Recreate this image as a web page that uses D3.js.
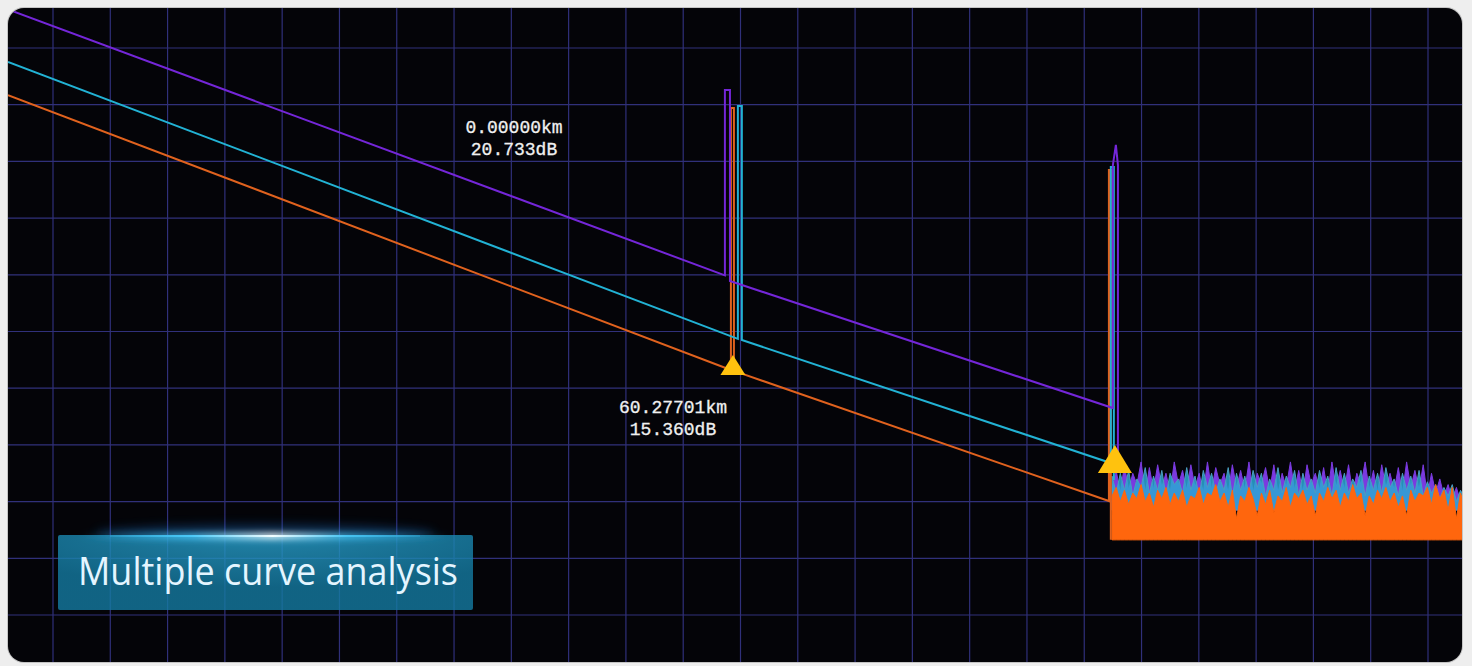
<!DOCTYPE html>
<html>
<head>
<meta charset="utf-8">
<script src="https://cdn.jsdelivr.net/npm/d3@7"></script>
<style>
  body { margin: 0; background: #eeeeee; }
  svg { display: block; }
</style>
</head>
<body>
<svg id="chart" width="1472" height="666"></svg>
<script>
// OTDR traces, vertices in km / dB
var purpleKm = [0, 59.61, 59.61, 60.03, 60.03, 91.87, 91.87, 92.12, 92.29, 92.29];
var purpleDb = [21.36, 11.98, 18.52, 18.52, 11.78, 7.30, 15.87, 16.58, 15.87, 5.11];
var cyanKm = [0, 60.69, 60.69, 61.02, 61.02, 91.70, 91.70, 91.95, 91.95];
var cyanDb = [19.51, 9.74, 17.95, 17.95, 9.70, 5.36, 15.80, 15.80, 4.76];
var orangeKm = [0, 60.11, 60.11, 60.36, 60.36, 91.54, 91.54, 91.70, 91.70];
var orangeDb = [18.34, 8.64, 17.88, 17.88, 8.61, 4.02, 15.70, 15.70, 2.65];

// noise after fiber end (dB), one value per sample
var noiseStartKm = 91.8, noiseStepKm = 0.345, noiseFloorDb = 2.65;
var purpleNoise = [4.5, 5.1, 4.3, 5.3, 4.4, 5.0, 4.6, 5.4, 4.3, 5.2,
  4.4, 5.3, 4.5, 5.0, 4.3, 5.4, 4.6, 5.1, 4.4, 5.3,
  4.5, 5.0, 4.3, 5.4, 4.4, 5.2, 4.6, 5.0, 4.3, 5.3,
  4.5, 5.1, 4.4, 5.4, 4.3, 5.0, 4.6, 5.2, 4.4, 5.3,
  4.3, 5.0, 4.5, 5.4, 4.4, 5.1, 4.3, 5.3, 4.6, 5.0,
  4.4, 5.2, 4.3, 5.4, 4.5, 5.1, 4.4, 5.3, 4.3, 5.0,
  4.6, 5.4, 4.4, 5.1, 4.3, 5.3, 4.5, 5.0, 4.4, 5.2,
  4.3, 5.4, 4.5, 5.1, 4.4, 5.3, 4.2, 5.0, 4.3, 4.8,
  4.2, 4.6, 4.1, 4.5, 4.0, 4.3];
var cyanNoise = [4.9, 4.3, 5.0, 4.4, 5.1, 4.2, 4.8, 4.5, 5.2, 4.3,
  4.9, 4.4, 5.1, 4.2, 5.0, 4.6, 4.8, 4.3, 5.2, 4.4,
  4.9, 4.2, 5.1, 4.5, 5.0, 4.3, 4.8, 4.4, 5.2, 4.2,
  5.0, 4.4, 4.9, 4.3, 5.1, 4.5, 5.0, 4.2, 4.8, 4.4,
  5.2, 4.3, 4.9, 4.5, 5.1, 4.2, 5.0, 4.4, 4.8, 4.3,
  5.1, 4.5, 4.9, 4.2, 5.2, 4.4, 5.0, 4.3, 4.8, 4.5,
  5.1, 4.2, 4.9, 4.4, 5.0, 4.3, 5.2, 4.5, 4.8, 4.2,
  5.0, 4.4, 4.9, 4.3, 5.1, 4.2, 4.7, 4.3, 4.6, 4.1,
  4.5, 4.2, 4.6, 4.0, 4.4, 4.1];
var orangeNoise = [4.2, 4.5, 4.0, 4.4, 3.9, 4.3, 4.1, 4.6, 4.0, 4.3,
  3.8, 4.4, 4.1, 4.5, 3.9, 4.3, 4.0, 4.4, 3.8, 4.2,
  4.1, 4.5, 3.9, 4.3, 4.2, 4.6, 4.0, 4.3, 3.8, 4.4,
  3.4, 4.2, 4.0, 4.5, 4.1, 3.5, 4.3, 3.9, 4.4, 3.6,
  4.2, 4.0, 4.5, 3.8, 4.3, 4.1, 4.4, 3.9, 4.2, 3.5,
  4.3, 4.0, 4.5, 4.1, 4.4, 3.8, 4.3, 4.0, 4.6, 4.1,
  4.3, 3.5, 4.2, 3.9, 4.4, 4.1, 4.5, 4.0, 4.3, 3.8,
  4.2, 3.5, 4.4, 4.0, 4.3, 4.2, 4.5, 3.9, 4.6, 4.1,
  4.4, 3.7, 4.5, 3.4, 4.3, 3.8];

// cursors
var markerKm = [60.28, 92.04];
var markerDb = [9.17, 6.0];
var cursorKmText = ["0.00000km", "60.27701km"];
var cursorDbText = ["20.733dB", "15.360dB"];
var titleText = "Multiple curve analysis";

//////////////////////////////////////////////////////////////////////////////

var svg = d3.select("#chart");
var panel = { x: 8, y: 8, w: 1454, h: 654, r: 16 };

var x = d3.scaleLinear().domain([0, 120.9]).range([8, 1462]);
var y = d3.scaleLinear().domain([0, 20]).range([615, 48]);

// screen divisions
var divX = d3.scaleLinear().domain([0, 24]).range([53, 1428]);
var divY = d3.scaleLinear().domain([0, 10]).range([48, 615]);

var defs = svg.append("defs");

defs.append("clipPath")
  .attr("id", "panelClip")
  .append("rect")
  .attr("x", panel.x).attr("y", panel.y)
  .attr("width", panel.w).attr("height", panel.h)
  .attr("rx", panel.r);

var blur = defs.append("filter").attr("id", "blur")
  .attr("filterUnits", "userSpaceOnUse")
  .attr("x", 40).attr("y", 515).attr("width", 460).attr("height", 40);
blur.append("feGaussianBlur").attr("stdDeviation", 3);

var soft = defs.append("filter").attr("id", "soft")
  .attr("x", "-20%").attr("y", "-80%").attr("width", "140%").attr("height", "260%");
soft.append("feGaussianBlur").attr("stdDeviation", 5);

var glowGrad = defs.append("linearGradient").attr("id", "glowLine")
  .attr("gradientUnits", "userSpaceOnUse")
  .attr("x1", 80).attr("x2", 450).attr("y1", 0).attr("y2", 0);
glowGrad.append("stop").attr("offset", "0%").attr("stop-color", "#3fc8ff").attr("stop-opacity", 0);
glowGrad.append("stop").attr("offset", "30%").attr("stop-color", "#4fd0ff").attr("stop-opacity", 0.8);
glowGrad.append("stop").attr("offset", "52%").attr("stop-color", "#f2fdff").attr("stop-opacity", 1);
glowGrad.append("stop").attr("offset", "72%").attr("stop-color", "#4fd0ff").attr("stop-opacity", 0.7);
glowGrad.append("stop").attr("offset", "100%").attr("stop-color", "#3fc8ff").attr("stop-opacity", 0);

var boxGrad = defs.append("radialGradient").attr("id", "boxFill")
  .attr("cx", "50%").attr("cy", "0%").attr("r", "70%");
boxGrad.append("stop").attr("offset", "0%").attr("stop-color", "#2aa2cf");
boxGrad.append("stop").attr("offset", "100%").attr("stop-color", "#147ba2");

// panel
svg.append("rect")
  .attr("x", panel.x - 1).attr("y", panel.y - 1)
  .attr("width", panel.w + 2).attr("height", panel.h + 2)
  .attr("rx", panel.r + 1)
  .attr("fill", "#c4c4c4");

var g = svg.append("g").attr("clip-path", "url(#panelClip)");

g.append("rect")
  .attr("x", panel.x).attr("y", panel.y)
  .attr("width", panel.w).attr("height", panel.h)
  .attr("fill", "#040408");

// grid
g.selectAll(".vgrid")
  .data(d3.range(25))
  .enter()
  .append("line")
  .attr("class", "vgrid")
  .attr("x1", function(d) { return divX(d); })
  .attr("x2", function(d) { return divX(d); })
  .attr("y1", panel.y).attr("y2", panel.y + panel.h)
  .attr("stroke", "#30307a")
  .attr("stroke-width", 1.2);

g.selectAll(".hgrid")
  .data(d3.range(11))
  .enter()
  .append("line")
  .attr("class", "hgrid")
  .attr("y1", function(d) { return divY(d); })
  .attr("y2", function(d) { return divY(d); })
  .attr("x1", panel.x).attr("x2", panel.x + panel.w)
  .attr("stroke", "#30307a")
  .attr("stroke-width", 1.2);

// noise floor areas
function noiseRows(vals) {
  return vals.map(function(v, i) {
    return { km: noiseStartKm + i * noiseStepKm, db: v };
  });
}

var bandArea = d3.area()
  .x(function(d) { return x(d.km); })
  .y0(y(3.7))
  .y1(function(d) { return y(d.db); });

var floorArea = d3.area()
  .x(function(d) { return x(d.km); })
  .y0(y(noiseFloorDb))
  .y1(function(d) { return y(d.db); });

g.append("path")
  .datum(noiseRows(purpleNoise))
  .attr("d", bandArea)
  .attr("fill", "#7a3ae0")
  .attr("stroke", "#7a3ae0")
  .attr("stroke-width", 1);

g.append("path")
  .datum(noiseRows(cyanNoise))
  .attr("d", bandArea)
  .attr("fill", "#2aa8d4")
  .attr("fill-opacity", 0.85)
  .attr("stroke", "#4a9ec0")
  .attr("stroke-width", 1);

g.append("path")
  .datum(noiseRows(orangeNoise))
  .attr("d", floorArea)
  .attr("fill", "#ff660d")
  .attr("stroke", "#ff660d")
  .attr("stroke-width", 1);

// traces
function rows(kms, dbs) {
  return kms.map(function(k, i) { return { km: k, db: dbs[i] }; });
}

var line = d3.line()
  .x(function(d) { return x(d.km); })
  .y(function(d) { return y(d.db); });

var traces = [
  { data: rows(orangeKm, orangeDb), color: "#e0621e" },
  { data: rows(cyanKm, cyanDb), color: "#22b2d4" },
  { data: rows(purpleKm, purpleDb), color: "#7426d8" }
];

g.selectAll(".trace")
  .data(traces)
  .enter()
  .append("path")
  .attr("class", "trace")
  .attr("d", function(d) { return line(d.data); })
  .attr("fill", "none")
  .attr("stroke", function(d) { return d.color; })
  .attr("stroke-width", 2)
  .attr("stroke-linejoin", "miter");

// cursor markers
var markerSize = [[25, 20], [34, 28]];

g.selectAll(".marker")
  .data(markerKm)
  .enter()
  .append("path")
  .attr("class", "marker")
  .attr("d", function(d, i) {
    var px = x(d), py = y(markerDb[i]);
    var w = markerSize[i][0], h = markerSize[i][1];
    return "M" + px + "," + py + "L" + (px + w / 2) + "," + (py + h) +
      "L" + (px - w / 2) + "," + (py + h) + "Z";
  })
  .attr("fill", "#ffc20e");

// cursor readouts
var labelAnchor = [[514, 133], [673, 413]];

labelAnchor.forEach(function(a, i) {
  var t = g.append("text")
    .attr("x", a[0]).attr("y", a[1])
    .attr("text-anchor", "middle")
    .attr("fill", "#f0f0f0")
    .attr("stroke", "#f0f0f0")
    .attr("stroke-width", 0.3)
    .style("font-family", "'Liberation Mono', 'DejaVu Sans Mono', monospace")
    .style("font-size", "18px");
  t.append("tspan").attr("x", a[0]).text(cursorKmText[i]);
  t.append("tspan").attr("x", a[0]).attr("dy", 22).text(cursorDbText[i]);
});

// title badge
var badge = { x: 58, y: 535, w: 415, h: 75 };

g.append("ellipse")
  .attr("cx", 265).attr("cy", badge.y - 2)
  .attr("rx", 170).attr("ry", 9)
  .attr("fill", "#1a6cc0")
  .attr("opacity", 0.35)
  .attr("filter", "url(#soft)");

g.append("rect")
  .attr("x", badge.x).attr("y", badge.y)
  .attr("width", badge.w).attr("height", badge.h)
  .attr("rx", 2)
  .attr("fill", "url(#boxFill)")
  .attr("opacity", 0.8);

g.append("line")
  .attr("x1", 80).attr("x2", 450)
  .attr("y1", badge.y + 1).attr("y2", badge.y + 1)
  .attr("stroke", "url(#glowLine)")
  .attr("stroke-width", 6)
  .attr("filter", "url(#blur)");

g.append("line")
  .attr("x1", 110).attr("x2", 420)
  .attr("y1", badge.y + 1).attr("y2", badge.y + 1)
  .attr("stroke", "url(#glowLine)")
  .attr("stroke-width", 2);

g.append("text")
  .attr("x", 78).attr("y", 585)
  .attr("textLength", 380)
  .attr("lengthAdjust", "spacingAndGlyphs")
  .attr("fill", "#e4f5ff")
  .style("font-family", "'Open Sans', 'Noto Sans', sans-serif")
  .style("font-size", "39px")
  .text(titleText);
</script>
</body>
</html>
